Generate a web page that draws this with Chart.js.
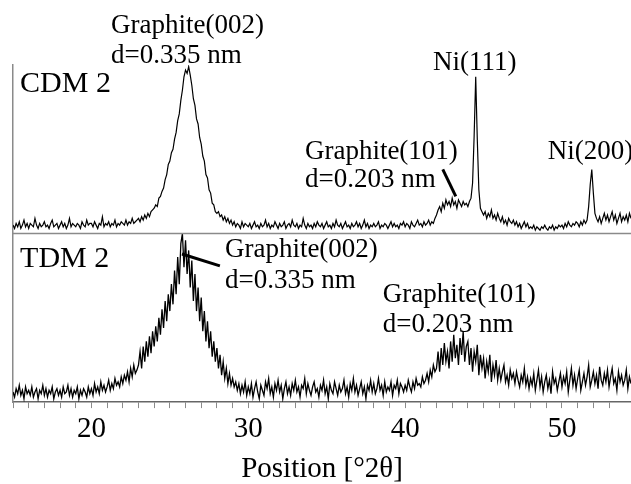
<!DOCTYPE html>
<html>
<head>
<meta charset="utf-8">
<script src="https://cdn.jsdelivr.net/npm/chart.js@4.4.1/dist/chart.umd.min.js"></script>
<style>
  html, body { margin: 0; padding: 0; background: #fff; }
  #wrap { width: 631px; height: 484px; position: relative; }
</style>
</head>
<body>
<div id="wrap"><canvas id="xrdChart"></canvas></div>
<script>
// 2-theta sampling of both patterns
const thetaStart = 15;
const thetaStep = 0.1;

// CDM 2 intensity (relative, top panel), one row per degree
const cdmIntensity = [
    5, 3, 6, 4, 7, 3, 5, 8, 4, 6,
    3, 6, 5, 4, 9, 5, 3, 6, 4, 5,
    7, 4, 5, 3, 6, 8, 4, 5, 6, 3,
    5, 7, 4, 6, 3, 5, 9, 4, 6, 5,
    4, 6, 5, 3, 7, 5, 4, 8, 5, 6,
    6, 4, 7, 5, 3, 6, 5, 10, 4, 6,
    5, 7, 4, 6, 5, 8, 4, 6, 5, 7,
    6, 5, 8, 5, 7, 6, 9, 6, 7, 8,
    9, 7, 10, 8, 11, 9, 12, 10, 13, 14,
    15, 17, 16, 21, 22, 25, 27, 32, 35, 41,
    43, 48, 50, 56, 60, 67, 71, 79, 85, 93,
    97, 95, 99, 94, 88, 80, 76, 68, 65, 57,
    53, 46, 43, 35, 33, 26, 24, 18, 17, 13,
    12, 13, 10, 11, 8, 10, 7, 9, 6, 8,
    5, 7, 4, 6, 5, 3, 7, 4, 6, 5,
    4, 6, 3, 5, 7, 4, 5, 3, 6, 4,
    5, 8, 4, 6, 3, 5, 4, 7, 5, 3,
    6, 4, 5, 7, 3, 5, 6, 4, 8, 5,
    4, 6, 3, 5, 4, 9, 5, 3, 6, 4,
    5, 3, 6, 4, 7, 5, 4, 6, 3, 5,
    7, 4, 5, 3, 6, 4, 8, 5, 4, 6,
    3, 5, 7, 4, 5, 3, 6, 4, 5, 7,
    4, 6, 3, 5, 8, 4, 6, 3, 5, 4,
    6, 4, 5, 7, 3, 5, 4, 6, 5, 3,
    5, 7, 4, 6, 4, 5, 3, 6, 5, 7,
    4, 6, 5, 3, 7, 5, 4, 6, 8, 5,
    6, 4, 7, 5, 6, 8, 5, 7, 6, 9,
    11, 14, 16, 13, 18, 15, 20, 17, 19, 16,
    21, 17, 19, 15, 20, 18, 16, 19, 17, 18,
    16, 19, 21, 30, 58, 93, 56, 26, 15, 13,
    11, 13, 9, 12, 10, 14, 9, 11, 8, 12,
    9, 7, 10, 6, 8, 5, 9, 7, 6, 8,
    5, 7, 4, 6, 3, 5, 7, 4, 6, 3,
    4, 3, 5, 2, 4, 3, 2, 4, 3, 5,
    3, 2, 4, 3, 5, 2, 4, 3, 5, 4,
    5, 3, 6, 4, 7, 5, 4, 6, 5, 7,
    6, 4, 7, 5, 8, 6, 8, 16, 29, 38,
    24, 12, 9, 7, 10, 6, 9, 12, 8, 11,
    7, 10, 13, 8, 11, 6, 9, 12, 7, 10,
    8, 11, 7, 12, 9
];

// TDM 2 intensity (relative, bottom panel)
const tdmIntensity = [
    6, 3, 8, 5, 10, 4, 7, 2, 9, 5,
    7, 4, 9, 3, 6, 8, 2, 7, 5, 10,
    4, 8, 3, 7, 5, 9, 2, 6, 8, 4,
    7, 3, 9, 5, 6, 10, 4, 8, 3, 7,
    5, 9, 2, 7, 4, 8, 6, 3, 9, 5,
    8, 4, 11, 6, 9, 5, 12, 7, 10, 6,
    9, 13, 7, 11, 8, 14, 10, 12, 9, 15,
    11, 16, 13, 18, 12, 20, 15, 22, 17, 19,
    22, 30, 20, 33, 24, 36, 27, 39, 29, 42,
    33, 45, 36, 50, 40, 55, 44, 60, 48, 64,
    54, 70, 58, 78, 64, 86, 70, 94, 100, 80,
    96, 76, 90, 68, 84, 60, 76, 54, 68, 48,
    62, 42, 54, 36, 48, 32, 42, 27, 36, 24,
    32, 20, 28, 16, 24, 14, 20, 11, 17, 10,
    14, 9, 12, 7, 11, 5, 10, 6, 12, 4,
    9, 5, 11, 3, 8, 12, 6, 2, 10, 7,
    4, 12, 8, 14, 5, 9, 3, 11, 7, 13,
    6, 10, 2, 8, 12, 5, 9, 4, 11, 7,
    13, 6, 9, 3, 10, 8, 14, 5, 11, 7,
    4, 9, 12, 6, 8, 3, 10, 7, 13, 5,
    9, 2, 11, 7, 5, 12, 8, 4, 10, 6,
    8, 13, 5, 9, 3, 11, 7, 14, 6, 10,
    4, 8, 12, 5, 9, 2, 10, 7, 13, 6,
    11, 5, 8, 14, 7, 10, 4, 12, 6, 9,
    7, 12, 4, 10, 8, 13, 5, 11, 9, 6,
    10, 7, 13, 9, 6, 12, 8, 14, 10, 11,
    9, 15, 11, 13, 17, 12, 19, 15, 22, 18,
    20, 30, 18, 32, 22, 35, 24, 30, 20, 36,
    24, 40, 26, 34, 22, 38, 28, 42, 24, 33,
    36, 22, 32, 18, 30, 24, 34, 16, 28, 20,
    26, 14, 24, 18, 28, 12, 22, 16, 25, 13,
    20, 13, 18, 22, 12, 16, 10, 19, 14, 17,
    11, 18, 13, 9, 16, 12, 20, 10, 15, 8,
    14, 10, 17, 7, 13, 19, 9, 15, 6, 12,
    16, 8, 13, 5, 18, 11, 14, 7, 12, 17,
    9, 15, 11, 18, 6, 13, 20, 10, 16, 8,
    14, 19, 7, 12, 17, 10, 15, 22, 9, 13,
    18, 11, 16, 8, 21, 13, 10, 17, 12, 19,
    9, 15, 20, 11, 14, 7, 18, 12, 16, 10,
    13, 19, 8, 15, 11
];

const xMin = 15;
const xMax = 54.4;
const majorTicks = [20, 30, 40, 50];

// peak labels, anchored in data units of their panel
const notes = [
    {axis: 'yCdm', x: 21.25, y: 118.9, text: 'Graphite(002)', size: 27},
    {axis: 'yCdm', x: 21.25, y: 101.2, text: 'd=0.335 nm', size: 27},
    {axis: 'yCdm', x: 15.45, y: 84.1, text: 'CDM 2', size: 30},
    {axis: 'yCdm', x: 41.77, y: 97.1, text: 'Ni(111)', size: 27},
    {axis: 'yCdm', x: 33.61, y: 44.5, text: 'Graphite(101)', size: 27},
    {axis: 'yCdm', x: 33.61, y: 27.4, text: 'd=0.203 nm', size: 27},
    {axis: 'yCdm', x: 49.1, y: 44.5, text: 'Ni(200)', size: 27},
    {axis: 'yTdm', x: 15.45, y: 80.2, text: 'TDM 2', size: 30},
    {axis: 'yTdm', x: 28.51, y: 86.1, text: 'Graphite(002)', size: 27},
    {axis: 'yTdm', x: 28.51, y: 67.8, text: 'd=0.335 nm', size: 27},
    {axis: 'yTdm', x: 38.58, y: 59.6, text: 'Graphite(101)', size: 27},
    {axis: 'yTdm', x: 38.58, y: 41.3, text: 'd=0.203 nm', size: 27}
];
const leaders = [
    {axis: 'yCdm', x1: 42.4, y1: 38.1, x2: 43.23, y2: 22.1},
    {axis: 'yTdm', x1: 25.77, y1: 87.9, x2: 28.19, y2: 80.8}
];

function toPoints(values) {
    return values.map((v, i) => ({x: thetaStart + i * thetaStep, y: v}));
}

// draws the panel divider, peak labels and leader lines
const xrdNotes = {
    id: 'xrdNotes',
    afterDraw(chart) {
        const {ctx, chartArea, scales} = chart;
        const xs = scales.x;
        ctx.save();
        ctx.strokeStyle = '#8a8a8a';
        ctx.lineWidth = 1.5;
        ctx.beginPath();
        ctx.moveTo(chartArea.left, scales.yCdm.bottom);
        ctx.lineTo(chartArea.right, scales.yCdm.bottom);
        ctx.stroke();

        ctx.fillStyle = '#000';
        ctx.textAlign = 'left';
        ctx.textBaseline = 'alphabetic';
        notes.forEach(n => {
            ctx.font = n.size + 'px "Liberation Serif", "Times New Roman", serif';
            ctx.fillText(n.text, xs.getPixelForValue(n.x), scales[n.axis].getPixelForValue(n.y));
        });

        ctx.strokeStyle = '#000';
        ctx.lineWidth = 3;
        leaders.forEach(l => {
            const ys = scales[l.axis];
            ctx.beginPath();
            ctx.moveTo(xs.getPixelForValue(l.x1), ys.getPixelForValue(l.y1));
            ctx.lineTo(xs.getPixelForValue(l.x2), ys.getPixelForValue(l.y2));
            ctx.stroke();
        });
        ctx.restore();
    }
};

const serif = '"Liberation Serif", "Times New Roman", serif';

new Chart(document.getElementById('xrdChart'), {
    type: 'line',
    data: {
        datasets: [
            {
                label: 'TDM 2',
                data: toPoints(tdmIntensity),
                yAxisID: 'yTdm',
                borderColor: '#000',
                borderWidth: 1.3,
                pointRadius: 0,
                tension: 0
            },
            {
                label: 'CDM 2',
                data: toPoints(cdmIntensity),
                yAxisID: 'yCdm',
                borderColor: '#000',
                borderWidth: 1.2,
                pointRadius: 0,
                tension: 0
            }
        ]
    },
    options: {
        responsive: true,
        maintainAspectRatio: false,
        animation: false,
        layout: {
            padding: {left: 13, right: 0, top: 65, bottom: 0}
        },
        plugins: {
            legend: {display: false},
            tooltip: {enabled: false}
        },
        scales: {
            x: {
                type: 'linear',
                min: xMin,
                max: xMax,
                afterBuildTicks: scale => {
                    scale.ticks = scale.ticks.filter(t => Number.isInteger(t.value));
                },
                ticks: {
                    stepSize: 1,
                    autoSkip: false,
                    maxRotation: 0,
                    padding: 5,
                    color: '#000',
                    font: {family: serif, size: 29, lineHeight: 1.1},
                    callback: v => majorTicks.includes(v) ? String(v) : ''
                },
                grid: {
                    drawOnChartArea: false,
                    drawTicks: true,
                    tickLength: 6,
                    color: '#8a8a8a'
                },
                border: {color: '#666', width: 1.5},
                title: {
                    display: true,
                    text: 'Position [°2θ]',
                    color: '#000',
                    font: {family: serif, size: 29, lineHeight: 1.0},
                    padding: {top: 5, bottom: 0}
                }
            },
            yTdm: {
                type: 'linear',
                position: 'left',
                stack: 'xrd',
                stackWeight: 1,
                min: 0,
                max: 100,
                ticks: {display: false},
                grid: {display: false, drawTicks: false},
                border: {color: '#8a8a8a', width: 1.5}
            },
            yCdm: {
                type: 'linear',
                position: 'left',
                stack: 'xrd',
                stackWeight: 1,
                min: 0,
                max: 100,
                ticks: {display: false},
                grid: {display: false, drawTicks: false},
                border: {color: '#8a8a8a', width: 1.5}
            }
        }
    },
    plugins: [xrdNotes]
});
</script>
</body>
</html>
